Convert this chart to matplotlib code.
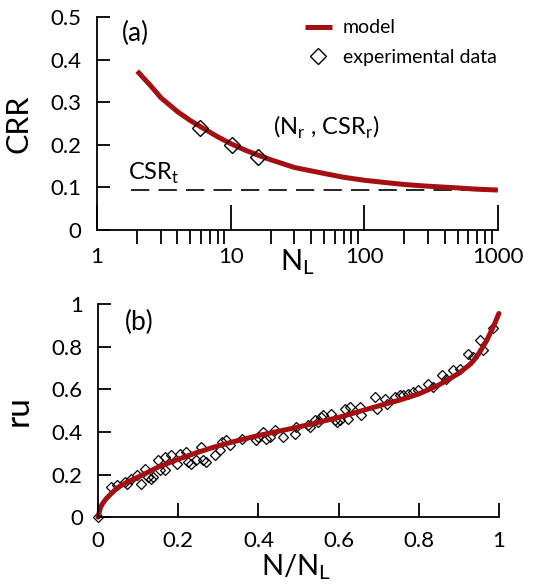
import numpy as np
import matplotlib
matplotlib.use('Agg')
import matplotlib.pyplot as plt
from matplotlib.ticker import FuncFormatter, FixedLocator, LogLocator, NullFormatter

plt.rcParams['font.family'] = ['Lato', 'DejaVu Sans']
plt.rcParams['mathtext.fontset'] = 'custom'
plt.rcParams['mathtext.rm'] = 'Lato'

# ---------------- data ----------------
# (a) CRR vs number of cycles to liquefaction
model_NL = [2, 2.5, 3, 4, 5, 6, 8, 10, 13, 16, 20, 30, 40, 50, 70,
            100, 150, 200, 300, 500, 700, 1000]
model_CRR = [0.373, 0.340, 0.311, 0.278, 0.257, 0.242, 0.219, 0.203, 0.187,
             0.176, 0.165, 0.147, 0.139, 0.133, 0.124, 0.117, 0.111, 0.107,
             0.103, 0.099, 0.096, 0.094]
exp_NL = [5.9, 10.3, 16.0]
exp_CRR = [0.240, 0.199, 0.171]
CSR_T = 0.093
csr_line_NL = [1.8, 1000]

# (b) pore pressure ratio vs N/NL
model_ratio = [0, 0.005, 0.01, 0.02, 0.035, 0.05, 0.075, 0.1, 0.15, 0.2,
               0.25, 0.3, 0.35, 0.4, 0.45, 0.5, 0.55, 0.6, 0.65, 0.7, 0.75,
               0.8, 0.85, 0.9, 0.93, 0.95, 0.97, 0.99, 1.0]
model_ru = [0, 0.04, 0.06, 0.086, 0.115, 0.14, 0.167, 0.188, 0.235, 0.272,
            0.305, 0.335, 0.36, 0.383, 0.403, 0.423, 0.445, 0.468, 0.495,
            0.522, 0.548, 0.578, 0.62, 0.675, 0.72, 0.768, 0.83, 0.91, 0.956]
exp_ratio = [0, 0.033, 0.046, 0.067, 0.071, 0.083, 0.096, 0.108, 0.116, 0.125,
             0.133, 0.137, 0.150, 0.154, 0.166, 0.166, 0.183, 0.196, 0.204,
             0.220, 0.225, 0.233, 0.245, 0.258, 0.262, 0.270, 0.291, 0.304,
             0.308, 0.320, 0.329, 0.358, 0.395, 0.399, 0.412, 0.420, 0.428,
             0.441, 0.462, 0.491, 0.495, 0.524, 0.528, 0.541, 0.549, 0.557,
             0.562, 0.582, 0.591, 0.595, 0.603, 0.616, 0.624, 0.628, 0.653,
             0.657, 0.691, 0.695, 0.715, 0.720, 0.740, 0.753, 0.761, 0.774,
             0.786, 0.799, 0.824, 0.836, 0.857, 0.869, 0.886, 0.903, 0.923,
             0.936, 0.953, 0.961, 0.986]
exp_ru = [0, 0.141, 0.149, 0.165, 0.157, 0.180, 0.196, 0.157, 0.227, 0.188,
          0.180, 0.188, 0.266, 0.219, 0.282, 0.219, 0.290, 0.251, 0.298,
          0.306, 0.259, 0.251, 0.266, 0.329, 0.266, 0.259, 0.290, 0.313,
          0.353, 0.361, 0.337, 0.368, 0.361, 0.376, 0.400, 0.368, 0.376,
          0.408, 0.376, 0.392, 0.423, 0.431, 0.423, 0.455, 0.447, 0.470,
          0.478, 0.486, 0.455, 0.447, 0.455, 0.509, 0.462, 0.517, 0.517,
          0.478, 0.564, 0.509, 0.556, 0.533, 0.564, 0.572, 0.572, 0.580,
          0.588, 0.596, 0.627, 0.611, 0.666, 0.650, 0.690, 0.697, 0.768,
          0.752, 0.831, 0.784, 0.886]

RED = '#a50f12'

fig = plt.figure(figsize=(5.33, 5.87), dpi=100)
ax1 = fig.add_axes([0.182, 0.608, 0.752, 0.363])
ax2 = fig.add_axes([0.184, 0.119, 0.752, 0.363])

fmt = FuncFormatter(lambda v, p: '%g' % v)

for ax in (ax1, ax2):
    for s in ('top', 'right'):
        ax.spines[s].set_visible(False)
    for s in ('left', 'bottom'):
        ax.spines[s].set_linewidth(1.3)
    ax.tick_params(direction='in', labelsize=16, width=1.3)
    ax.tick_params(axis='y', length=9, pad=11)

# ---------------- (a) ----------------
ax1.plot(csr_line_NL, [CSR_T, CSR_T], color='black', lw=1.2,
         linestyle=(0, (11, 5.5)))
ax1.plot(model_NL, model_CRR, color=RED, lw=3.6, label='model',
         solid_capstyle='butt')
ax1.plot(exp_NL, exp_CRR, linestyle='none', marker='D', ms=8,
         mfc='none', mec='black', mew=1.0, label='experimental data')
ax1.set_xscale('log')
ax1.set_xlim(1, 1000)
ax1.set_ylim(0, 0.5)
ax1.set_yticks([0, 0.1, 0.2, 0.3, 0.4, 0.5])
ax1.yaxis.set_major_formatter(fmt)
ax1.xaxis.set_major_locator(FixedLocator([1, 10, 100, 1000]))
ax1.xaxis.set_minor_locator(LogLocator(base=10, subs=np.arange(2, 10)))
ax1.xaxis.set_major_formatter(fmt)
ax1.xaxis.set_minor_formatter(NullFormatter())
ax1.tick_params(axis='x', which='major', length=18, pad=12)
ax1.tick_params(axis='x', which='minor', length=10, width=1.3)
ax1.set_ylabel('CRR', fontsize=22)
ax1.yaxis.set_label_coords(-0.16, 0.5)
ax1.set_xlabel(r'N$_\mathregular{L}$', fontsize=21, va='top')
ax1.xaxis.set_label_coords(0.5, -0.08)

ax1.text(0.062, 0.925, '(a)', transform=ax1.transAxes, fontsize=19,
         va='center', ha='left')
ax1.text(0.439, 0.484, r'(N$_\mathregular{r}$ , CSR$_\mathregular{r}$)',
         transform=ax1.transAxes, fontsize=17, va='center', ha='left')
ax1.text(0.077, 0.268, r'CSR$_\mathregular{t}$', transform=ax1.transAxes,
         fontsize=17, va='center', ha='left')

leg = ax1.legend(loc='upper left', bbox_to_anchor=(0.499, 1.025), frameon=False,
                 fontsize=14, handlelength=1.4, handletextpad=0.55,
                 labelspacing=0.65, borderaxespad=0)

# ---------------- (b) ----------------
ax2.plot(exp_ratio, exp_ru, linestyle='none', marker='D', ms=5,
         mfc='none', mec='black', mew=0.9, clip_on=False)
ax2.plot(model_ratio, model_ru, color=RED, lw=3.6, clip_on=False,
         solid_capstyle='round')
ax2.set_xlim(0, 1)
ax2.set_ylim(0, 1)
ax2.set_xticks([0, 0.2, 0.4, 0.6, 0.8, 1])
ax2.set_yticks([0, 0.2, 0.4, 0.6, 0.8, 1])
ax2.xaxis.set_major_formatter(fmt)
ax2.yaxis.set_major_formatter(fmt)
ax2.tick_params(axis='x', length=10, pad=10)
ax2.set_ylabel('ru', fontsize=24)
ax2.yaxis.set_label_coords(-0.162, 0.5)
ax2.set_xlabel(r'N/N$_\mathregular{L}$', fontsize=21, va='top')
ax2.xaxis.set_label_coords(0.494, -0.165)
ax2.text(0.067, 0.915, '(b)', transform=ax2.transAxes, fontsize=19,
         va='center', ha='left')

fig.savefig('out.png', dpi=100)
